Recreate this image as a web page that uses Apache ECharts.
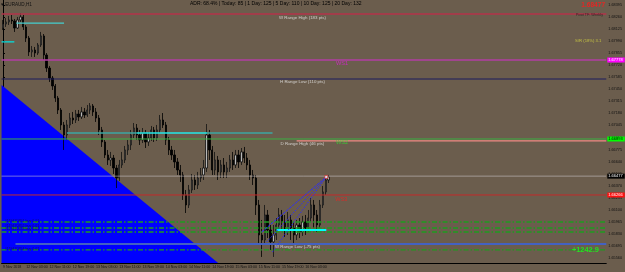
<!DOCTYPE html>
<html>
<head>
<meta charset="utf-8">
<script src="https://cdn.jsdelivr.net/npm/echarts@6/dist/echarts.min.js"></script>
<style>html,body{margin:0;height:100%;background:#6b5d4d}#container{width:625px;height:272px}</style>
</head>
<body>
<div id="container"></div>
<script>
// H1 candles, EURAUD: [open, close, low, high]
var candles = [
  [1.68136,1.68181,1.68114,1.68226],[1.68181,1.68204,1.68148,1.68248],[1.68204,1.68226,1.68170,1.68271],[1.68226,1.68215,1.68181,1.68282],
  [1.68215,1.68136,1.68092,1.68237],[1.68136,1.68226,1.68125,1.68260],[1.68226,1.68260,1.68204,1.68304],[1.68260,1.68148,1.68114,1.68282],
  [1.68148,1.68024,1.67980,1.68170],[1.68024,1.67868,1.67823,1.68047],[1.67868,1.67890,1.67812,1.67935],[1.67890,1.67856,1.67812,1.67924],
  [1.67856,1.67946,1.67834,1.67968],[1.67946,1.68047,1.67924,1.68092],[1.68047,1.67834,1.67778,1.68069],[1.67834,1.67688,1.67644,1.67856],
  [1.67688,1.67576,1.67532,1.67711],[1.67576,1.67487,1.67442,1.67599],[1.67487,1.67352,1.67308,1.67509],[1.67352,1.67218,1.67173,1.67375],
  [1.67218,1.67050,1.66994,1.67240],[1.67050,1.66938,1.66770,1.67084],[1.66938,1.67050,1.66882,1.67106],[1.67050,1.67128,1.67016,1.67184],
  [1.67128,1.67106,1.67061,1.67196],[1.67106,1.67173,1.67072,1.67218],[1.67173,1.67140,1.67095,1.67218],[1.67140,1.67196,1.67117,1.67252],
  [1.67196,1.67162,1.67128,1.67240],[1.67162,1.67218,1.67140,1.67274],[1.67218,1.67263,1.67173,1.67296],[1.67263,1.67196,1.67151,1.67285],
  [1.67196,1.67128,1.67084,1.67240],[1.67128,1.66994,1.66938,1.67162],[1.66994,1.66860,1.66804,1.67028],[1.66860,1.66714,1.66680,1.66882],
  [1.66714,1.66658,1.66602,1.66770],[1.66658,1.66680,1.66591,1.66748],[1.66680,1.66568,1.66501,1.66714],[1.66568,1.66456,1.66344,1.66602],
  [1.66456,1.66602,1.66423,1.66658],[1.66602,1.66658,1.66568,1.66748],[1.66658,1.66770,1.66624,1.66815],[1.66770,1.66826,1.66714,1.66882],
  [1.66826,1.66938,1.66770,1.66994],[1.66938,1.67016,1.66904,1.67072],[1.67016,1.66938,1.66882,1.67061],[1.66938,1.66882,1.66826,1.66994],
  [1.66882,1.66960,1.66848,1.67016],[1.66960,1.66860,1.66792,1.66994],[1.66860,1.66904,1.66815,1.66972],[1.66904,1.66994,1.66871,1.67039],
  [1.66994,1.66904,1.66860,1.67028],[1.66904,1.66994,1.66871,1.67050],[1.66994,1.67106,1.66960,1.67162],[1.67106,1.67050,1.67016,1.67184],
  [1.67050,1.66882,1.66826,1.67084],[1.66882,1.66770,1.66714,1.66916],[1.66770,1.66714,1.66658,1.66815],[1.66714,1.66636,1.66568,1.66770],
  [1.66636,1.66546,1.66490,1.66680],[1.66546,1.66490,1.66412,1.66602],[1.66490,1.66266,1.66210,1.66524],[1.66266,1.66154,1.66064,1.66322],
  [1.66154,1.66322,1.66120,1.66378],[1.66322,1.66434,1.66288,1.66501],[1.66434,1.66378,1.66322,1.66490],[1.66378,1.66456,1.66333,1.66524],
  [1.66456,1.66490,1.66412,1.66568],[1.66490,1.66568,1.66434,1.66658],[1.66568,1.66938,1.66524,1.67061],[1.66938,1.66770,1.66658,1.66994],
  [1.66770,1.66546,1.66490,1.66815],[1.66546,1.66658,1.66490,1.66748],[1.66658,1.66524,1.66434,1.66703],[1.66524,1.66602,1.66456,1.66658],
  [1.66602,1.66524,1.66456,1.66680],[1.66524,1.66568,1.66456,1.66636],[1.66568,1.66658,1.66524,1.66714],[1.66658,1.66602,1.66546,1.66748],
  [1.66602,1.66714,1.66568,1.66770],[1.66714,1.66636,1.66568,1.66770],[1.66636,1.66748,1.66602,1.66792],[1.66748,1.66680,1.66624,1.66804],
  [1.66680,1.66602,1.66546,1.66736],[1.66602,1.66490,1.66434,1.66658],[1.66490,1.66456,1.66378,1.66546],[1.66456,1.66154,1.66042,1.66490],
  [1.66154,1.65818,1.65706,1.66210],[1.65818,1.65762,1.65572,1.65986],[1.65762,1.66042,1.65706,1.66154],[1.66042,1.65874,1.65784,1.66098],
  [1.65874,1.65740,1.65650,1.65930],[1.65740,1.65818,1.65572,1.65930],[1.65818,1.65930,1.65762,1.66008],[1.65930,1.66042,1.65874,1.66120],
  [1.66042,1.65964,1.65874,1.66098],[1.65964,1.65874,1.65796,1.66042],[1.65874,1.65986,1.65818,1.66076],[1.65986,1.65896,1.65762,1.66042],
  [1.65896,1.65818,1.65706,1.65964],[1.65818,1.65930,1.65762,1.65986],[1.65930,1.65852,1.65784,1.66008],[1.65852,1.65964,1.65807,1.66031],
  [1.65964,1.65896,1.65818,1.66042],[1.65896,1.66008,1.65852,1.66098],[1.66008,1.66154,1.65964,1.66232],[1.66154,1.66042,1.65896,1.66210],
  [1.66042,1.65930,1.65852,1.66098],[1.65930,1.66154,1.65896,1.66210],[1.66154,1.66300,1.66120,1.66367],[1.66300,1.66434,1.66266,1.66479],
  [1.66434,1.66468,1.66400,1.66490]
];

var barSlots = 208;   // visible bar slots incl. the empty shift on the right
var xTickIndex = [0, 8, 16, 24, 32, 40, 48, 56, 64, 72, 80, 88, 96, 104];
var xTickLabel = ['9 Nov 2018', '12 Nov 03:00', '12 Nov 11:00', '12 Nov 19:00', '13 Nov 03:00', '13 Nov 11:00',
  '13 Nov 19:00', '14 Nov 03:00', '14 Nov 11:00', '14 Nov 19:00', '15 Nov 03:00', '15 Nov 11:00',
  '15 Nov 19:00', '16 Nov 03:00'];
var yTickValues = [1.68395, 1.68260, 1.68125, 1.67990, 1.67855, 1.67720, 1.67585, 1.67450, 1.67315, 1.67180, 1.67045,
  1.66910, 1.66775, 1.66640, 1.66505, 1.66370, 1.66235, 1.66100, 1.65965, 1.65830, 1.65695, 1.65560];
var yMin = 1.65504, yMax = 1.68450;

// horizontal objects: price, start bar, end bar
var hLinePrice = [1.68293, 1.67778, 1.67565, 1.68192, 1.67980, 1.66960, 1.66960, 1.66960, 1.66893, 1.66871,
  1.66477, 1.66266, 1.65964, 1.65896, 1.65852, 1.65717, 1.65650, 1.65874];
var hLineFrom = [-0.5, -0.5, -0.5, 4.6, -0.5, 22, 46, 70.2, -0.5, 101, -0.5, -0.5, -0.5, -0.5, -0.5, 4.3, -0.5, 94.1];
var hLineTo = [207.5, 207.5, 207.5, 21, 3.9, 46, 70.2, 92.7, 207.5, 207.5, 207.5, 207.5, 207.5, 207.5, 207.5, 207.5, 207.5, 111.2];
var hLineTag = ['', '1.67778', '', '', '', '', '', '', '1.66893', '', '1.66477', '1.66266', '', '', '', '', '', ''];

// blue triangle (bar, price)
var triangle = [[-0.5, 1.67498], [74, 1.65504]];
// trend fan lines toward the last close
var fanFrom = [[89, 1.65852], [92.7, 1.65628], [90.7, 1.65740]];
var fanTo = [111.2, 1.66468];

// chart texts
var annoText = ['W Range High (183 pts)', 'H Range Low (110 pts)', 'D Range High (46 pts)', 'W Range Low (-75 pts)',
  'WS1', 'WS2', 'WS3', 'S/R (18%) 3.1', 'Pivot TF: Weekly', '1.68477', '+1242.9',
  '#119470351 buy 0.01', '#119470352 buy 0.01', '#119470353 buy 0.01', '#119470354 buy 0.01'];
var annoX = [103, 103, 103, 101.3, 116.6, 116.6, 116.4, 201.3, 201.7, 203, 200.3, 0.6, 0.6, 0.6, 0.6];
var annoY = [1.68254, 1.67532, 1.66837, 1.65684, 1.67736, 1.66852, 1.66213, 1.67991, 1.68282, 1.68394, 1.65650,
  1.65975, 1.65919, 1.65885, 1.65661];

var adrParts = [['ADR: ', '68.4%'], [' | Today: ', '85'], [' | 1 Day: ', '125'], [' | 5 Day: ', '110'],
  [' | 10 Day: ', '125'], [' | 20 Day: ', '132']];

var FONT = 'Liberation Sans';
var dashDot = [5, 2, 1.5, 2];
var hLineStyle = [
  { color: '#b3334a', width: 1.5 }, { color: '#b23ea3', width: 1.4 }, { color: '#1d1d5e', width: 1 },
  { color: '#45cfcf', width: 1.3 }, { color: '#00e2e2', width: 1.3 },
  { color: '#3ba7a3', width: 1.6 }, { color: '#22eaea', width: 1.6 }, { color: '#3ba7a3', width: 1.6 },
  { color: '#3cb043', width: 1 }, { color: '#f08a84', width: 1.2 },
  { color: 'rgba(205,200,205,0.55)', width: 1 }, { color: '#c42a2a', width: 1 },
  { color: '#1f9c1f', width: 1.6, type: dashDot }, { color: '#1f9c1f', width: 1.6, type: dashDot },
  { color: '#1f9c1f', width: 1.6, type: dashDot },
  { color: '#4361c2', width: 2 }, { color: '#1f9c1f', width: 1.3, type: dashDot }, { color: '#00ffff', width: 2 }
];
var tagBg = { '1.67778': ['#ff00ff', '#fff'], '1.66893': ['#00ff00', '#000'], '1.66477': ['#000', '#fff'], '1.66266': ['#ff1010', '#fff'] };
var annoStyle = [
  { color: '#e6e6e6', fontSize: 4.4 }, { color: '#e6e6e6', fontSize: 4.4 }, { color: '#e6e6e6', fontSize: 4.4 },
  { color: '#e6e6e6', fontSize: 4.4 },
  { color: '#e020d8', fontSize: 5.6 }, { color: '#30e030', fontSize: 5.6 }, { color: '#f02020', fontSize: 5.6 },
  { color: '#d8d840', fontSize: 4.2 }, { color: '#1a1a1a', fontSize: 3.6 },
  { color: '#ff1a1a', fontSize: 6.6, fontWeight: 'bold' }, { color: '#18ff18', fontSize: 7.4, fontWeight: 'bold' },
  { color: '#10103a', fontSize: 3.6, align: 'left' }, { color: '#10103a', fontSize: 3.6, align: 'left' },
  { color: '#10103a', fontSize: 3.6, align: 'left' }, { color: '#10103a', fontSize: 3.6, align: 'left' }
];

var categories = [];
for (var i = 0; i < barSlots; i++) categories.push(i);

var series = [];
series.push({
  type: 'line', xAxisIndex: 1, data: triangle, symbol: 'none', silent: true, z: 1,
  lineStyle: { width: 0 }, areaStyle: { color: '#0000ff', opacity: 1, origin: 'start' }
});
series.push({
  type: 'candlestick', data: candles, barWidth: 1.8, z: 3,
  itemStyle: { color: '#b8b8b8', color0: '#000', borderColor: '#111', borderColor0: '#000', borderWidth: 0.8 }
});
hLinePrice.forEach(function (p, k) {
  var s = {
    type: 'line', xAxisIndex: 1, symbol: 'none', silent: true, z: 4,
    data: [[hLineFrom[k], p], [hLineTo[k], p]],
    lineStyle: hLineStyle[k]
  };
  if (hLineTag[k]) {
    s.endLabel = {
      show: true, formatter: hLineTag[k], distance: 1, fontFamily: FONT, fontSize: 4,
      backgroundColor: tagBg[hLineTag[k]][0], color: tagBg[hLineTag[k]][1], padding: [1, 2, 0, 1]
    };
  }
  series.push(s);
});
fanFrom.forEach(function (f, k) {
  series.push({
    type: 'line', xAxisIndex: 1, symbol: 'none', silent: true, z: 4,
    data: [f, fanTo],
    lineStyle: { color: '#2b2bff', width: 1, type: k === 0 ? [3, 1] : [1.5, 1.5] }
  });
});
series.push({
  type: 'scatter', xAxisIndex: 1, symbol: 'rect', symbolSize: 3, z: 5, silent: true,
  itemStyle: { color: '#fff', borderColor: '#d02020', borderWidth: 0.8 },
  data: [fanTo]
});
series.push({
  type: 'scatter', xAxisIndex: 1, symbolSize: 0, z: 10, zlevel: 1, silent: true,
  data: annoText.map(function (t, k) {
    var st = annoStyle[k];
    return {
      value: [annoX[k], annoY[k]],
      label: {
        show: true, position: 'inside', formatter: t, fontFamily: FONT,
        color: st.color, fontSize: st.fontSize, fontWeight: st.fontWeight || 'normal', align: st.align || 'center'
      }
    };
  })
});

var rich = { w: { color: '#f0f0f0', fontSize: 5, fontFamily: FONT }, g: { color: '#22e022', fontSize: 5, fontFamily: FONT } };
var adrText = adrParts.map(function (p) { return '{w|' + p[0] + '}{g|' + p[1] + '}'; }).join('');

var chart = echarts.init(document.getElementById('container'));
chart.setOption({
  backgroundColor: '#6b5d4d',
  animation: false,
  grid: { left: 0, right: 16, top: 0, bottom: 9 },
  xAxis: [{
    type: 'category', data: categories, boundaryGap: true,
    axisLine: { lineStyle: { color: '#000', width: 1 } },
    axisTick: { alignWithLabel: true, length: 2, lineStyle: { color: '#000' },
      interval: function (i) { return xTickIndex.indexOf(i) >= 0; } },
    axisLabel: {
      interval: function (i) { return xTickIndex.indexOf(i) >= 0; },
      formatter: function (v, i) { return xTickLabel[xTickIndex.indexOf(i)]; },
      align: 'left', margin: 2, color: '#111', fontSize: 3.6, fontFamily: FONT, showMinLabel: true
    },
    splitLine: { show: false }
  }, {
    type: 'value', min: -0.5, max: barSlots - 0.5, show: false
  }],
  yAxis: {
    type: 'value', position: 'right', min: yMin, max: yMax, scale: true,
    axisLine: { show: true, lineStyle: { color: '#000', width: 1 } },
    axisTick: { show: true, length: 2, customValues: yTickValues, lineStyle: { color: '#000' } },
    axisLabel: {
      customValues: yTickValues, margin: 2, color: '#111', fontSize: 3.8, fontFamily: FONT,
      formatter: function (v) { return v.toFixed(5); }
    },
    splitLine: { show: false }
  },
  graphic: [
    { type: 'text', left: 1, top: 2, style: { text: '\u25BE EURAUD,H1', fill: '#111', fontSize: 4.6, fontFamily: FONT } },
    { type: 'text', left: 190, top: 1, style: { text: adrText, rich: rich } }
  ],
  series: series
});
</script>
</body>
</html>
